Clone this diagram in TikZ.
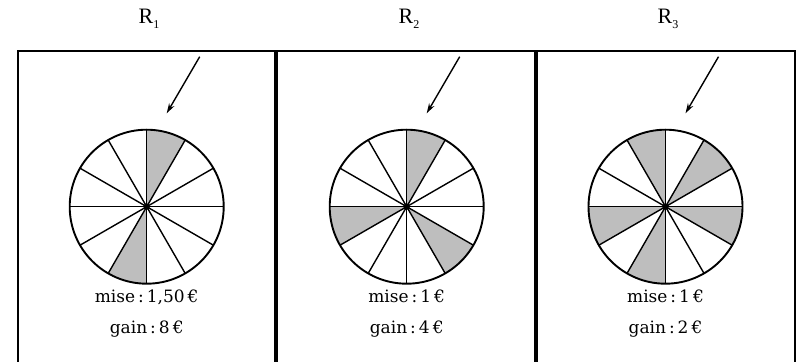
\documentclass[tikz,border=0pt]{standalone}
\usepackage{fontspec}
\setmainfont{DejaVu Serif}
\newfontfamily\rfont{Liberation Serif}
\usetikzlibrary{arrows.meta}
\definecolor{sect}{RGB}{190,190,190}
\newcommand{\gp}{\hspace{3pt}}
\begin{document}
\begin{tikzpicture}[x=1pt,y=1pt,
  frame/.style={draw=black,line width=1.5pt},
  wheel/.style={draw=black,line width=1.9pt},
  spoke/.style={draw=black,line width=1.4pt},
  sectfill/.style={fill=sect},
  pointer/.style={draw=black,line width=1.4pt,-{Stealth[length=10pt,width=6pt]}},
  lab/.style={anchor=base,font=\fontsize{17}{17}\selectfont,inner sep=0pt},
  rlab/.style={anchor=base,font=\rfont\fontsize{22}{22}\selectfont,inner sep=0pt}]
\useasboundingbox (0,0) rectangle (799,361);
\clip (0,0) rectangle (799,361);
% frames
\draw[frame] (18,-10) rectangle (275,310);
\draw[frame] (277,-10) rectangle (535,310);
\draw[frame] (537,-10) rectangle (795,310);
% labels
\node[rlab] (r1) at (149,337) {R\raisebox{-5pt}{\fontsize{12}{12}\selectfont 1}};
\node[rlab] (r2) at (409,337) {R\raisebox{-5pt}{\fontsize{12}{12}\selectfont 2}};
\node[rlab] (r3) at (668,337) {R\raisebox{-5pt}{\fontsize{12}{12}\selectfont 3}};
% wheels
\foreach \i/\cx/\shades in {1/146.7/{60,240}, 2/406.7/{60,180,300}, 3/665.5/{30,90,180,240,330}}{
  \coordinate (c\i) at (\cx,154.3);
  \foreach \s in \shades {
    \fill[sectfill] (c\i) -- ++(\s:77pt) arc[start angle=\s, end angle=\s+30, radius=77pt] -- cycle;
  }
  \foreach \a in {0,30,...,150} {
    \draw[spoke] (c\i) ++(\a:77pt) -- ++(\a+180:154pt);
  }
  \draw[wheel] (c\i) circle (77pt);
  \fill (c\i) circle (3.2pt);
  \coordinate (ps\i) at (\cx+53,304.3);
  \coordinate (pe\i) at (\cx+20,247.7);
  \draw[pointer] (ps\i) -- (pe\i);
}
% texts
\node[lab] (m1) at (146.7,59) {mise\gp:\gp1,50\gp€};
\node[lab] (g1) at (146.7,28) {gain\gp:\gp8\gp€};
\node[lab] (m2) at (406.7,59) {mise\gp:\gp1\gp€};
\node[lab] (g2) at (406.7,28) {gain\gp:\gp4\gp€};
\node[lab] (m3) at (665.5,59) {mise\gp:\gp1\gp€};
\node[lab] (g3) at (665.5,28) {gain\gp:\gp2\gp€};
\end{tikzpicture}
\end{document}
